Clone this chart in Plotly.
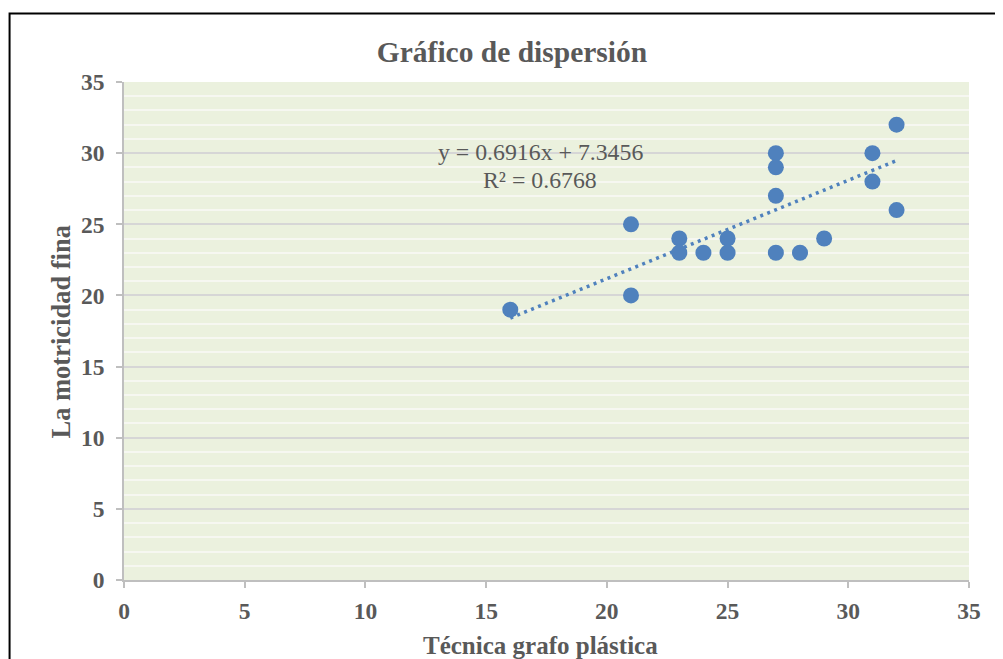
import plotly.graph_objects as go

# Data
tecnica_x = [16, 21, 21, 23, 23, 24, 25, 25, 27, 27, 27, 27, 28, 29, 31, 31, 32, 32]
motricidad_y = [19, 25, 20, 24, 23, 23, 24, 23, 30, 29, 27, 23, 23, 24, 30, 28, 32, 26]

# Linear trendline as reported on the chart
slope = 0.6916
intercept = 7.3456
r_squared = 0.6768

tick_vals = [0, 5, 10, 15, 20, 25, 30, 35]

title_text = "Gráfico de dispersión"
x_title = "Técnica grafo plástica"
y_title = "La motricidad fina"

TXT = "#595959"
FONT = "Liberation Serif"
BLUE = "#4f81bd"

trend_x = [min(tecnica_x), max(tecnica_x)]
trend_y = [slope * v + intercept for v in trend_x]

fig = go.Figure()
fig.add_trace(go.Scatter(
    x=trend_x, y=trend_y, mode="lines",
    line=dict(color=BLUE, width=3.5, dash="3px,4.5px"),
    hoverinfo="skip", showlegend=False,
))
fig.add_trace(go.Scatter(
    x=tecnica_x, y=motricidad_y, mode="markers",
    marker=dict(color=BLUE, size=16, line=dict(width=0)),
    showlegend=False,
))

OFF = 8  # page body margin
W, H = 995, 651
# plot area in screen pixels: x 123.5..969, y 82..580
L, R, T, B = 123.5 - OFF, W - (969 - OFF), 82 - OFF, H - (580 - OFF)
pw, ph = W - L - R, H - T - B

def px_x(p):
    return (p - OFF - L) / pw

def px_y(p):
    return (H - B - (p - OFF)) / ph

def data_x(p):
    return (p - 123.5) / 845.5 * 35

def data_y(p):
    return (580 - p) / 498 * 35

fig.update_layout(
    width=W, height=H,
    margin=dict(l=L, r=R, t=T, b=B),
    paper_bgcolor="white",
    plot_bgcolor="#ebf1de",
    showlegend=False,
    font=dict(family=FONT, color=TXT),
    title=dict(text=title_text, x=(512 - OFF) / W, xanchor="center", xref="container",
               y=1 - (52 - OFF) / H, yanchor="middle", yref="container",
               font=dict(family=FONT, size=29.5, color=TXT, weight="bold")),
    xaxis=dict(
        range=[0, 35], tickvals=tick_vals, showgrid=False, zeroline=False,
        showline=True, linecolor="#bfbfbf", linewidth=1.5,
        ticks="outside", ticklen=6, tickcolor="#bfbfbf", tickwidth=1.5,
        ticklabelstandoff=3,
        tickfont=dict(family=FONT, size=23.5, color=TXT, weight="bold"),
    ),
    yaxis=dict(
        range=[0, 35], tickvals=tick_vals, showgrid=True, gridcolor="#d6d6d6", gridwidth=1.5,
        zeroline=False, showline=True, linecolor="#bfbfbf", linewidth=1.5,
        ticks="outside", ticklen=6, tickcolor="#bfbfbf", tickwidth=1.5,
        ticklabelstandoff=7,
        tickfont=dict(family=FONT, size=23.5, color=TXT, weight="bold"),
        minor=dict(dtick=1, showgrid=True, gridcolor="#f6f7f1", gridwidth=1.5, ticks=""),
    ),
    annotations=[
        dict(text=x_title, xref="paper", yref="paper", x=px_x(540), y=px_y(645),
             xanchor="center", yanchor="middle", showarrow=False,
             font=dict(family=FONT, size=25, color=TXT, weight="bold")),
        dict(text=y_title, xref="paper", yref="paper", x=px_x(60), y=px_y(332),
             xanchor="center", yanchor="middle", showarrow=False, textangle=-90,
             font=dict(family=FONT, size=26.5, color=TXT, weight="bold")),
        dict(text=f"y = {slope}x + {intercept}",
             xref="x", yref="y", x=data_x(540), y=data_y(152),
             xanchor="center", yanchor="middle", showarrow=False,
             font=dict(family=FONT, size=23.8, color=TXT)),
        dict(text=f"R² = {r_squared}",
             xref="x", yref="y", x=data_x(540), y=data_y(180),
             xanchor="center", yanchor="middle", showarrow=False,
             font=dict(family=FONT, size=23.8, color=TXT)),
    ],
    shapes=[
        dict(type="rect", xref="paper", yref="paper",
             x0=px_x(9), x1=px_x(1030), y0=px_y(700), y1=px_y(13.5),
             line=dict(color="black", width=2), fillcolor="rgba(0,0,0,0)", layer="above"),
    ],
)

fig.write_html("out.html")
